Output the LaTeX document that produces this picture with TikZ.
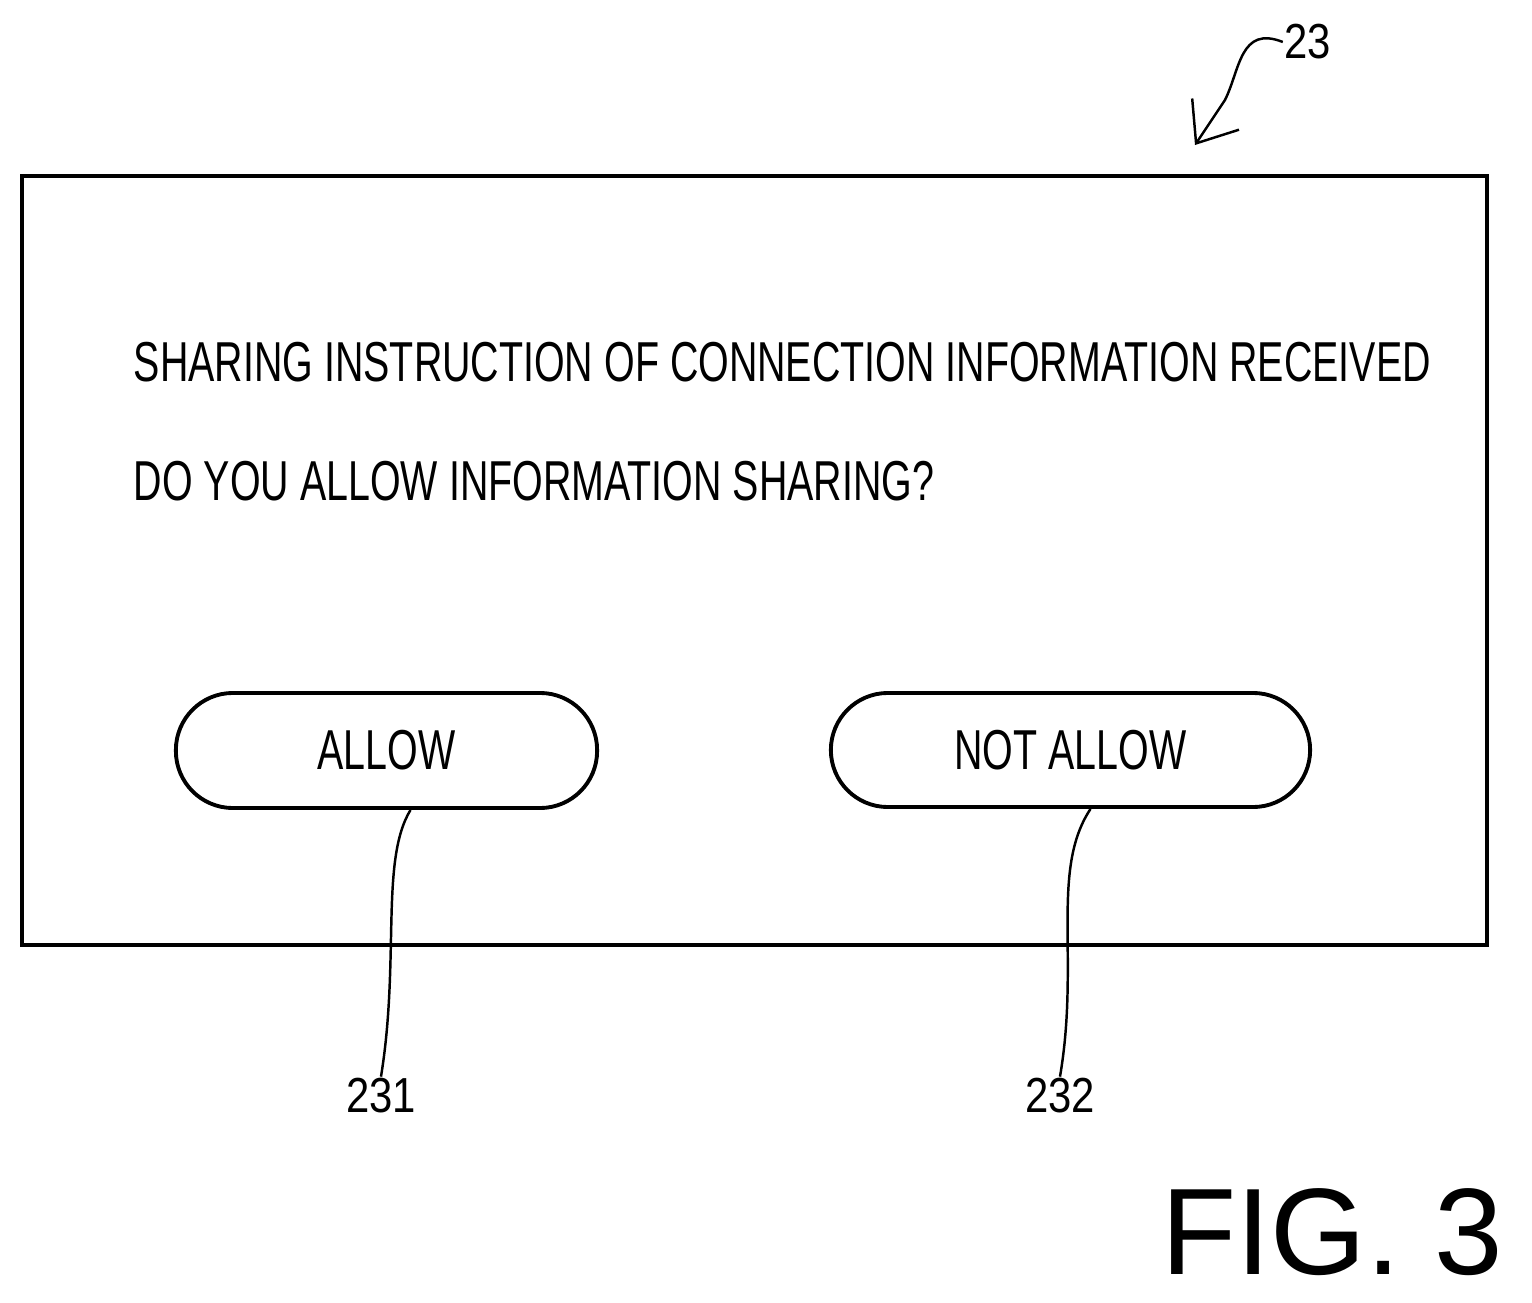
\documentclass[tikz,border=0pt]{standalone}
\usepackage{fontspec}
\setmainfont{Liberation Sans}
\usetikzlibrary{arrows.meta}
\usetikzlibrary{calc}
\newcommand{\narrow}[1]{\scalebox{0.70}[1]{#1}}
\begin{document}
\begin{tikzpicture}[x=0.01cm,y=-0.01cm,line width=1.1pt,
    msg/.style={anchor=base west,inner sep=0pt,font=\fontsize{16}{16}\selectfont},
    btn/.style={draw,rounded corners=0.57cm,inner sep=0pt,font=\fontsize{16}{16}\selectfont},
    ref/.style={inner sep=0pt,font=\fontsize{14}{14}\selectfont}]
            \useasboundingbox (0,0) rectangle (1532,1303);
            \node[draw,minimum width=14.65cm,minimum height=7.69cm,inner sep=0pt] (dlg) at (754.5,560.5) {};
            \node[msg] (l1) at (132,381) {\narrow{SHARING INSTRUCTION OF CONNECTION INFORMATION RECEIVED}};
            \node[msg] (l2) at (132,500) {\narrow{DO YOU ALLOW INFORMATION SHARING?}};
            \node[btn,minimum width=4.21cm,minimum height=1.15cm] (allow) at (386.5,750.5) {\narrow{ALLOW}};
            \node[btn,minimum width=4.79cm,minimum height=1.14cm] (deny) at (1070.5,750) {\narrow{NOT ALLOW}};
            \node[ref] (n231) at (381,1096) {\scalebox{0.85}[1]{231}};
            \node[ref] (n232) at (1060,1096) {\scalebox{0.85}[1]{232}};
            \node[ref] (n23) at (1308,42) {\scalebox{0.85}[1]{23}};
            \node[inner sep=0pt,font=\fontsize{35}{35}\selectfont] (fig) at (1332,1232) {FIG. 3};
            \draw[line width=0.7pt] (allow.south)++(24,0) .. controls (380,860) and (400,960) .. (n231.north);
            \draw[line width=0.7pt] (deny.south)++(20,0) .. controls (1050,870) and (1080,960) .. (n232.north);
            \draw[line width=0.7pt,-{Straight Barb[length=10pt,width=16pt]}] (n23.west) .. controls (1240,25) and (1240,70) .. (1225,100) -- (1195,145);
        \end{tikzpicture}
\end{document}
